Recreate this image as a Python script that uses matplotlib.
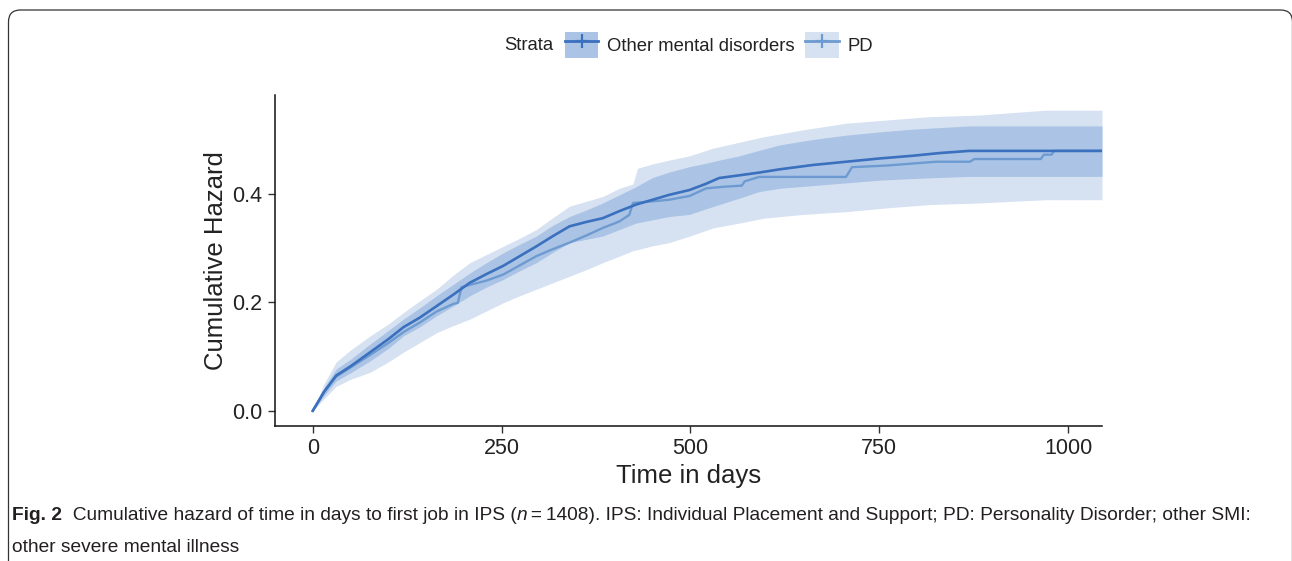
import matplotlib
matplotlib.use("Agg")
import matplotlib.pyplot as plt
from matplotlib.lines import Line2D
from matplotlib.patches import Rectangle, FancyBboxPatch
from matplotlib.transforms import IdentityTransform

# Other mental disorders: cumulative hazard with 95% CI
other_t = [0, 15, 31, 50, 76, 100, 120, 142, 164, 186, 208, 230, 252, 274, 296, 318,
           340, 362, 384, 406, 428, 450, 472, 499, 520, 538, 565, 591, 618, 662, 706,
           750, 794, 830, 869, 1045]
other_haz = [0, 0.035, 0.065, 0.082, 0.108, 0.132, 0.154, 0.172, 0.193, 0.214, 0.236,
             0.252, 0.267, 0.285, 0.303, 0.322, 0.340, 0.348, 0.355, 0.368, 0.380, 0.389,
             0.398, 0.407, 0.418, 0.429, 0.434, 0.439, 0.445, 0.453, 0.459, 0.465, 0.470,
             0.475, 0.479, 0.479]
other_lo = [0, 0.028, 0.055, 0.070, 0.092, 0.115, 0.138, 0.155, 0.175, 0.193, 0.212,
            0.228, 0.242, 0.258, 0.273, 0.292, 0.310, 0.316, 0.322, 0.334, 0.346, 0.352,
            0.358, 0.362, 0.372, 0.380, 0.392, 0.404, 0.410, 0.415, 0.420, 0.425, 0.428,
            0.430, 0.432, 0.432]
other_hi = [0, 0.043, 0.077, 0.095, 0.123, 0.148, 0.169, 0.190, 0.212, 0.233, 0.254,
            0.273, 0.291, 0.307, 0.322, 0.342, 0.358, 0.370, 0.383, 0.398, 0.413, 0.430,
            0.440, 0.450, 0.456, 0.462, 0.470, 0.480, 0.490, 0.500, 0.508, 0.514, 0.519,
            0.522, 0.525, 0.525]

# PD: cumulative hazard
pd_t = [0, 15, 31, 50, 76, 100, 120, 142, 164, 186, 192, 197, 230, 252, 274, 296, 318,
        340, 362, 384, 406, 419, 424, 450, 472, 499, 521, 545, 568, 572, 591, 706, 714,
        760, 825, 870, 876, 964, 968, 978, 982, 1045]
pd_haz = [0, 0.035, 0.063, 0.080, 0.103, 0.125, 0.145, 0.163, 0.183, 0.197, 0.199, 0.228,
          0.240, 0.251, 0.268, 0.285, 0.298, 0.310, 0.323, 0.337, 0.349, 0.361, 0.383,
          0.386, 0.389, 0.396, 0.410, 0.413, 0.415, 0.423, 0.431, 0.431, 0.449, 0.452,
          0.459, 0.459, 0.464, 0.464, 0.472, 0.472, 0.479, 0.479]
# PD: 95% CI
pd_ci_t = [0, 15, 31, 50, 76, 100, 120, 142, 164, 186, 208, 230, 252, 274, 296, 318, 340,
           362, 384, 406, 424, 430, 450, 472, 499, 530, 565, 597, 650, 706, 760, 816, 882,
           970, 1045]
pd_lo = [0, 0.022, 0.045, 0.058, 0.071, 0.090, 0.108, 0.126, 0.144, 0.157, 0.169, 0.184,
         0.199, 0.212, 0.224, 0.236, 0.248, 0.260, 0.273, 0.285, 0.295, 0.297, 0.304,
         0.310, 0.322, 0.337, 0.346, 0.355, 0.362, 0.367, 0.374, 0.380, 0.383, 0.389,
         0.389]
pd_hi = [0, 0.050, 0.090, 0.112, 0.138, 0.160, 0.181, 0.203, 0.224, 0.250, 0.273, 0.288,
         0.303, 0.318, 0.334, 0.356, 0.377, 0.386, 0.395, 0.410, 0.418, 0.447, 0.455,
         0.462, 0.470, 0.484, 0.495, 0.505, 0.518, 0.530, 0.536, 0.542, 0.545, 0.554,
         0.554]

x_ticks = [0, 250, 500, 750, 1000]
y_ticks = [0.0, 0.2, 0.4]

OTHER_LINE = "#3A70BD"
PD_LINE = "#6D9BD1"
OTHER_BAND = "#ABC4E5"
PD_BAND = "#D6E2F2"
TEXT = "#222222"

plt.rcParams["font.family"] = ["Liberation Sans", "DejaVu Sans"]

W, H = 1292, 561
fig = plt.figure(figsize=(W / 100, H / 100), dpi=100)
ax = fig.add_axes([275 / W, 1 - 426 / H, (1102 - 275) / W, (426 - 95) / H])

ax.fill_between(pd_ci_t, pd_lo, pd_hi, color=PD_BAND, lw=0, zorder=1)
ax.fill_between(other_t, other_lo, other_hi, color=OTHER_BAND, lw=0, zorder=2)
ax.plot(pd_t, pd_haz, color=PD_LINE, lw=1.7, zorder=3)
ax.plot(other_t, other_haz, color=OTHER_LINE, lw=1.9, zorder=4)

ax.set_xlim(-50, 1045)
ax.set_ylim(-0.028, 0.582)
ax.set_xticks(x_ticks)
ax.set_xticklabels([str(v) for v in x_ticks])
ax.set_yticks(y_ticks)
ax.set_yticklabels([f"{v:.1f}" for v in y_ticks])

for side in ("top", "right"):
    ax.spines[side].set_visible(False)
for side in ("left", "bottom"):
    ax.spines[side].set_linewidth(1.1)
    ax.spines[side].set_color("#111111")
ax.tick_params(direction="out", length=5, width=1.0, color="#333333",
               labelsize=15.5, labelcolor=TEXT)
ax.tick_params(axis="x", pad=4)
ax.tick_params(axis="y", pad=4)

ax.set_xlabel("Time in days", fontsize=18.5, color=TEXT)
ax.set_ylabel("Cumulative Hazard", fontsize=18.5, color=TEXT)
ax.xaxis.set_label_coords(0.5, -0.115)
ax.yaxis.set_label_coords(-0.057, 0.5)

# legend across the top
h_other = (Rectangle((0, 0), 1, 1, facecolor=OTHER_BAND, edgecolor="none"),
           Line2D([], [], color=OTHER_LINE, lw=2, marker="+", markersize=10, mew=1.6))
h_pd = (Rectangle((0, 0), 1, 1, facecolor=PD_BAND, edgecolor="none"),
        Line2D([], [], color=PD_LINE, lw=2, marker="+", markersize=10, mew=1.6))
fig.legend([h_other, h_pd], ["Other mental disorders", "PD"], ncol=2,
           loc="center left", bbox_to_anchor=(565 / W, 1 - 45 / H),
           bbox_transform=fig.transFigure, frameon=False, fontsize=13.3,
           borderpad=0, borderaxespad=0, handlelength=1.8, handleheight=1.85,
           handletextpad=0.5, columnspacing=0.55, labelcolor=TEXT)
fig.text(553 / W, 1 - 45 / H, "Strata", ha="right", va="center", fontsize=13.3, color=TEXT)

# rounded frame (top and left edges visible)
frame = FancyBboxPatch((8.5, -40), 1284, H - 10 + 40, boxstyle="round,pad=0,rounding_size=12",
                       transform=IdentityTransform(), fill=False, edgecolor="#333333", lw=0.9)
fig.add_artist(frame)

# caption
cap_font = ["Liberation Sans", "DejaVu Sans"]
cap_color = "#231F20"
renderer = fig.canvas.get_renderer()

line1 = [
    ("Fig. 2", "bold", "normal"),
    ("  Cumulative hazard of time in days to first job in IPS (", "normal", "normal"),
    ("n", "normal", "italic"),
    ("\u2009=\u20091408). IPS: Individual Placement and Support; PD: Personality Disorder; "
     "other SMI:", "normal", "normal"),
]
line2 = [("other severe mental illness", "normal", "normal")]


def caption_line(y, pieces, size):
    x = 12
    made = []
    for s, weight, style in pieces:
        t = fig.text(x, y, s, transform=IdentityTransform(), fontsize=size,
                     family=cap_font, weight=weight, style=style, color=cap_color,
                     va="baseline", ha="left")
        made.append(t)
        x = t.get_window_extent(renderer).x1
    return made, x


# fit the first caption line to the width it has in the figure
trial, end = caption_line(H - 520, line1, 13)
cap_size = 13 * (1255 - 12) / (end - 12)
for t in trial:
    t.remove()
caption_line(H - 520, line1, cap_size)
caption_line(H - 552, line2, cap_size)

fig.savefig("out.png", dpi=100)
